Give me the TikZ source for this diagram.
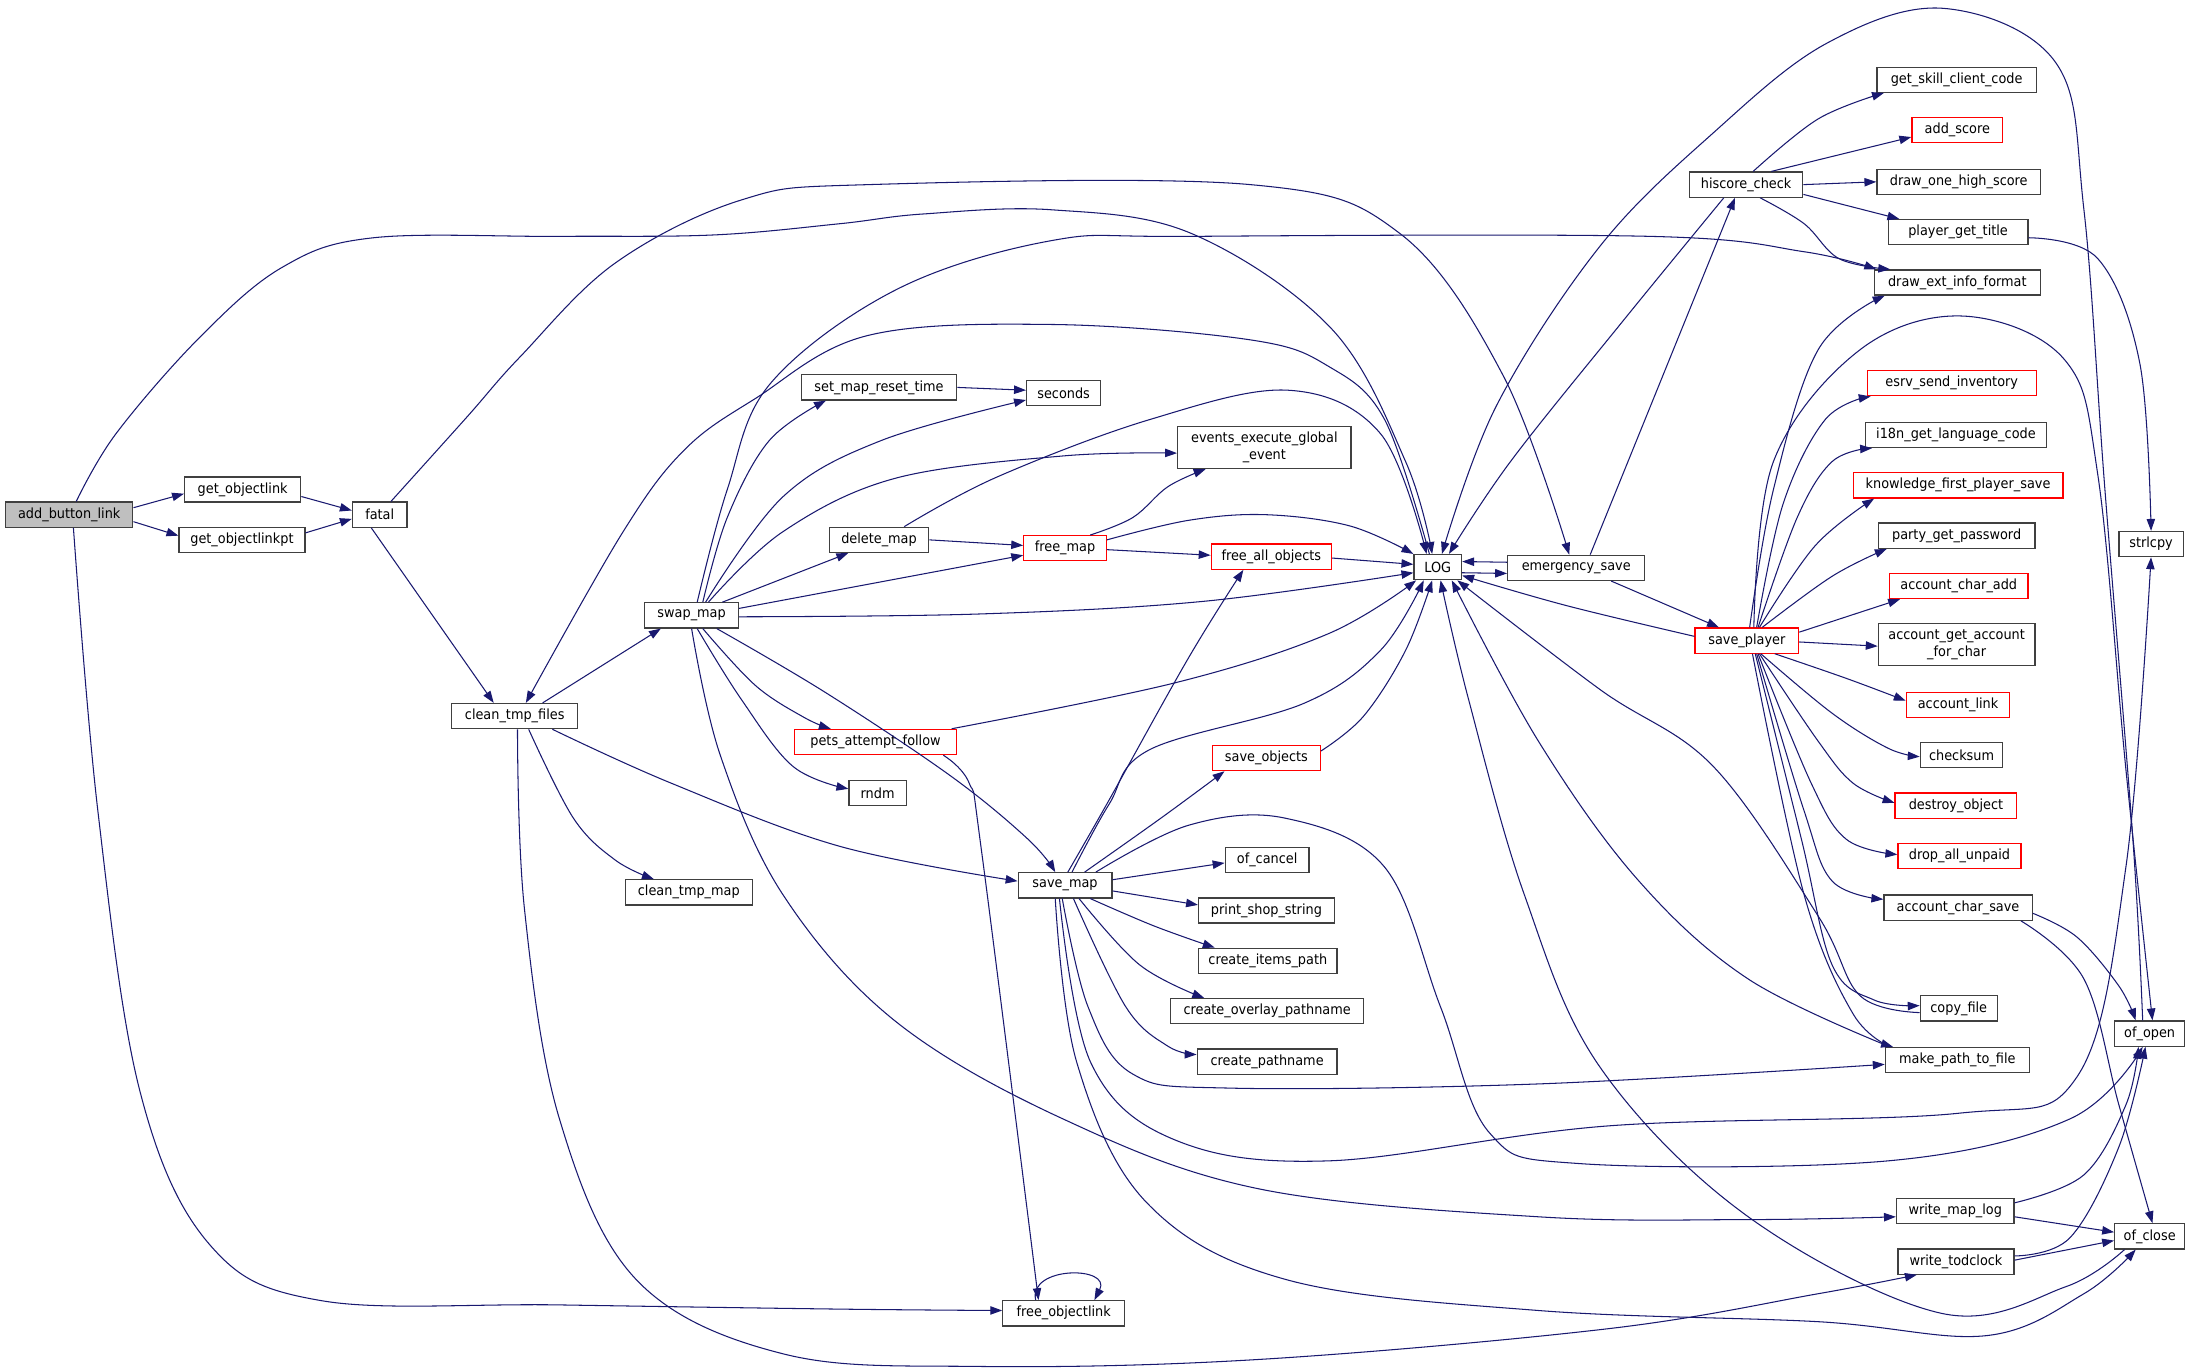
\documentclass[tikz,border=0pt]{standalone}
\usepackage{fontspec}
\newfontfamily\gfont{DejaVu Sans}[FakeStretch=0.92]
\usetikzlibrary{arrows.meta}
\definecolor{edgec}{HTML}{191970}
\definecolor{boxc}{HTML}{404040}
\definecolor{redc}{HTML}{FF0000}
\definecolor{grayfill}{HTML}{BFBFBF}
\begin{document}
\begin{tikzpicture}[x=1pt,y=-1pt,
  fn/.style={draw=boxc, line width=0.9pt, fill=white, minimum height=18pt, inner sep=0pt, font=\gfont\fontsize{10}{12}\selectfont, text=black, align=center},
  rn/.style={fn, draw=redc},
  tn/.style={fn, minimum height=30pt},
  e/.style={draw=edgec, line width=0.75pt, -{Triangle[length=8.5pt,width=6pt]}},
  sm/.style={smooth, tension=0.6}]
\fill[white] (0,0) rectangle (1568,980);
\useasboundingbox (0,0) rectangle (1568,980);

% nodes
\node[fn, fill=grayfill, minimum width=91pt] (abl) at (49.5,368) {add\_button\_link};
\node[fn, minimum width=83pt] (gol) at (173.5,350) {get\_objectlink};
\node[fn, minimum width=90pt] (golp) at (173,386) {get\_objectlinkpt};
\node[fn, minimum width=39pt] (fatal) at (271.5,368) {fatal};
\node[fn, minimum width=90pt] (ctf) at (368,512) {clean\_tmp\_files};
\node[fn, minimum width=67pt] (swap) at (494.5,440) {swap\_map};
\node[fn, minimum width=91pt] (ctm) at (492.5,638) {clean\_tmp\_map};
\node[fn, minimum width=111pt] (smrt) at (628.5,277) {set\_map\_reset\_time};
\node[fn, minimum width=53pt] (sec) at (760.5,281) {seconds};
\node[tn, minimum width=124pt] (eeg) at (904,320) {events\_execute\_global\\\_event};
\node[fn, minimum width=71pt] (dm) at (628.5,386) {delete\_map};
\node[rn, minimum width=59pt] (fm) at (761.5,392) {free\_map};
\node[rn, minimum width=86pt] (fao) at (909,398) {free\_all\_objects};
\node[fn, minimum width=34pt] (log) at (1028,405.5) {LOG};
\node[fn, minimum width=98pt] (es) at (1127,406) {emergency\_save};
\node[rn, minimum width=116pt] (paf) at (626,530.5) {pets\_attempt\_follow};
\node[fn, minimum width=41pt] (rndm) at (627.5,567) {rndm};
\node[rn, minimum width=77pt] (so) at (905.5,542) {save\_objects};
\node[fn, minimum width=67pt] (sm) at (761.5,633) {save\_map};
\node[fn, minimum width=60pt] (oc) at (906,615) {of\_cancel};
\node[fn, minimum width=97pt] (pss) at (905.5,651) {print\_shop\_string};
\node[fn, minimum width=99pt] (cip) at (906.5,687) {create\_items\_path};
\node[fn, minimum width=138pt] (cop) at (906,723) {create\_overlay\_pathname};
\node[fn, minimum width=100pt] (cp) at (906,759) {create\_pathname};
\node[fn, minimum width=87pt] (fol) at (760.5,939) {free\_objectlink};
\node[fn, minimum width=81pt] (hc) at (1248.5,132) {hiscore\_check};
\node[fn, minimum width=114pt] (gscc) at (1399,57) {get\_skill\_client\_code};
\node[rn, minimum width=65pt] (as) at (1399.5,93) {add\_score};
\node[fn, minimum width=117pt] (dohs) at (1400.5,130) {draw\_one\_high\_score};
\node[fn, minimum width=100pt] (pgt) at (1400,166) {player\_get\_title};
\node[fn, minimum width=119pt] (deif) at (1399.5,202) {draw\_ext\_info\_format};
\node[rn, minimum width=121pt] (esi) at (1395.5,274) {esrv\_send\_inventory};
\node[fn, minimum width=129pt] (i18n) at (1398.5,311) {i18n\_get\_language\_code};
\node[rn, minimum width=150pt] (kfps) at (1400,347) {knowledge\_first\_player\_save};
\node[fn, minimum width=112pt] (pgp) at (1399,383) {party\_get\_password};
\node[fn, minimum width=46pt] (strl) at (1538,389) {strlcpy};
\node[rn, minimum width=99pt] (aca) at (1400.5,419) {account\_char\_add};
\node[rn, minimum width=74pt] (sp) at (1249,458) {save\_player};
\node[tn, minimum width=112pt] (agafc) at (1399,461) {account\_get\_account\\\_for\_char};
\node[rn, minimum width=74pt] (al) at (1400,504) {account\_link};
\node[fn, minimum width=59pt] (cs) at (1402.5,540) {checksum};
\node[rn, minimum width=87pt] (do) at (1398.5,576) {destroy\_object};
\node[rn, minimum width=88pt] (dau) at (1401,612) {drop\_all\_unpaid};
\node[fn, minimum width=106pt] (acs) at (1400,649) {account\_char\_save};
\node[fn, minimum width=55pt] (cf) at (1400.5,721) {copy\_file};
\node[fn, minimum width=50pt] (oo) at (1537,739) {of\_open};
\node[fn, minimum width=103pt] (mptf) at (1399.5,758) {make\_path\_to\_file};
\node[fn, minimum width=84pt] (wml) at (1398,866) {write\_map\_log};
\node[fn, minimum width=50pt] (ocl) at (1537,884) {of\_close};
\node[fn, minimum width=83pt] (wt) at (1398.5,902) {write\_todclock};

% edges
\draw[e] ([yshift=5]abl.east) -- ([yshift=-3]gol.west);
\draw[e] ([yshift=-5]abl.east) -- ([yshift=3]golp.west);
\draw[e] ([yshift=-5]gol.east) -- ([yshift=3]fatal.west);
\draw[e] ([yshift=5]golp.east) -- ([yshift=-3]fatal.west);
\draw[e] plot[sm] coordinates {([xshift=5]abl.north) (83,310) (143,241) (202,191) (267,170) (400,169) (510,168) (600,160) (660,153) (752,150) (852,167) (952,235) (1005,330) ([xshift=-4]log.north)};
\draw[e] plot[sm] coordinates {([xshift=3]abl.south) (70,580) (100,780) (150,890) (230,930) (400,933) (600,936) ([yshift=2]fol.west)};
\draw[e] ([xshift=-6]fatal.south) -- ([xshift=-15]ctf.north);
\draw[e] plot[sm] coordinates {([xshift=8]fatal.north) (334,298) (372,255) (440,188) (530,143) (621,132) (894,132) (1001,167) (1075,269) ([xshift=-5]es.north)};
\draw[e] ([xshift=20]ctf.north) -- ([xshift=-22]swap.south);
\draw[e] plot[sm] coordinates {([xshift=-6]log.north) (990,300) (950,262) (894,243) (752,232) (620,240) (540,285) (489,322) (445,381) ([xshift=8]ctf.north)};
\draw[e] plot[sm] coordinates {([xshift=27]ctf.south) (480,560) (600,605) ([yshift=3]sm.west)};
\draw[e] plot[sm] coordinates {([xshift=10]ctf.south) (410,585) (440,615) ([xshift=-25]ctm.north)};
\draw[e] plot[sm] coordinates {([xshift=2]ctf.south) (375,650) (400,800) (455,915) (560,968) (700,977) (900,972) (1150,950) (1300,925) ([xshift=-28]wt.south)};

\draw[e] plot[sm] coordinates {([xshift=8]swap.north) (520,370) (550,315) ([xshift=-38]smrt.south)};
\draw[e] plot[sm] coordinates {([xshift=10]swap.north) (560,355) (630,315) ([yshift=-5]sec.west)};
\draw[e] plot[sm] coordinates {([xshift=12]swap.north) (560,380) (640,342) (760,326) ([yshift=-4]eeg.west)};
\draw[e] ([xshift=22]swap.north) -- ([xshift=-22]dm.south);
\draw[e] ([yshift=5]swap.east) -- ([yshift=-5]fm.west);
\draw[e] plot[sm] coordinates {([yshift=-1]swap.east) (700,439) (860,430) ([yshift=-4]log.west)};
\draw[e] plot[sm] coordinates {([xshift=4]swap.north) (520,350) (551,274) (641,207) (752,172) (852,169) (1180,169) (1290,180) ([xshift=-58]deif.north)};
\draw[e] plot[sm] coordinates {([xshift=18]swap.south) (590,495) (680,555) (735,600) ([xshift=-7]sm.north)};
\draw[e] plot[sm] coordinates {([xshift=8]swap.south) (540,490) (575,513) ([xshift=-32]paf.north)};
\draw[e] plot[sm] coordinates {([xshift=4]swap.south) (530,500) (567,548) ([yshift=3]rndm.west)};
\draw[e] plot[sm] coordinates {([xshift=0]swap.south) (515,540) (560,640) (640,730) (760,800) (900,850) (1100,870) (1250,872) ([yshift=-4]wml.west)};

\draw[e] (smrt.east) -- ([yshift=2]sec.west);
\draw[e] (dm.east) -- ([yshift=2]fm.west);
\draw[e] plot[sm] coordinates {([xshift=18]dm.north) (713,341) (822,300) (921,279) (987,310) ([xshift=-8]log.north)};
\draw[e] plot[sm] coordinates {([xshift=18]fm.north) (810,370) (835,348) ([xshift=-42]eeg.south)};
\draw[e] ([yshift=-1]fm.east) -- ([yshift=1]fao.west);
\draw[e] plot[sm] coordinates {([yshift=6]fm.east) (850,372) (905,368) (965,376) (log.north west)};
\draw[e] ([yshift=-1]fao.east) -- ([yshift=2]log.west);

\draw[e] plot[sm] coordinates {([xshift=-4]paf.north east) (841,488) (950,453) ([xshift=2]log.south west)};
\draw[e] plot[sm] coordinates {([xshift=-10]paf.south east) (693,560) (702,610) ([xshift=-18]fol.north)};
\draw[e] ([xshift=-20]fol.north) .. controls (735,905) and (795,905) .. ([xshift=22]fol.north);
\draw[e] plot[sm] coordinates {([yshift=5]so.east) (975,512) (1005,465) ([xshift=-4]log.south)};

\draw[e] ([yshift=4]sm.east) -- ([yshift=-2]oc.west);
\draw[e] ([yshift=-4]sm.east) -- ([yshift=4]pss.west);
\draw[e] plot[sm] coordinates {([xshift=18]sm.south) (825,662) ([xshift=-38]cip.north)};
\draw[e] plot[sm] coordinates {([xshift=10]sm.south) (815,690) ([xshift=-45]cop.north)};
\draw[e] plot[sm] coordinates {([xshift=6]sm.south) (805,720) (835,748) ([yshift=5]cp.west)};
\draw[e] plot[sm] coordinates {([xshift=2]sm.north) (793,572) (850,470) ([xshift=-20]fao.south)};
\draw[e] plot[sm] coordinates {([xshift=14]sm.north) (830,585) ([xshift=-30]so.south)};
\draw[e] plot[sm] coordinates {([xshift=5]sm.north) (793,575) (822,536) (932,503) (987,465) ([xshift=-10]log.south)};
\draw[e] plot[sm] coordinates {([xshift=22]sm.north) (850,590) (919,585) (990,620) (1030,720) (1065,810) (1130,832) (1350,830) (1480,800) ([xshift=-5]oo.south)};
\draw[e] plot[sm] coordinates {([xshift=-2]sm.south) (778,720) (810,768) (880,778) (1100,775) ([yshift=-3]mptf.west)};
\draw[e] plot[sm] coordinates {([xshift=-4]sm.south) (780,760) (840,815) (950,830) (1150,805) (1400,796) (1485,770) (1520,620) (strl.south)};
\draw[e] plot[sm] coordinates {([xshift=-7]sm.south) (770,760) (820,860) (920,915) (1100,937) (1300,945) (1420,955) (1490,925) ([xshift=-10]ocl.south)};

\draw[e] ([yshift=-4]log.east) -- ([yshift=-4]es.west);
\draw[e] ([yshift=4]es.west) -- ([yshift=4]log.east);
\draw[e] ([xshift=10]es.north) -- ([xshift=-8]hc.south);
\draw[e] ([xshift=25]es.south) -- ([xshift=-20]sp.north);
\draw[e] plot[sm] coordinates {([xshift=-16]hc.south) (1160,230) (1080,330) ([xshift=8]log.north)};
\draw[e] plot[sm] coordinates {([xshift=-5]oo.north) (1525,600) (1505,350) (1490,150) (1470,45) (1390,6) (1306,31) (1225,95) (1144,176) (1070,290) ([xshift=3]log.north)};
\draw[e] plot[sm] coordinates {([yshift=3]sp.west) (1120,433) ([yshift=-6]log.east)};
\draw[e] plot[sm] coordinates {([xshift=2]sp.north) (1268,350) (1300,250) ([xshift=-52]deif.south)};
\draw[e] plot[sm] coordinates {([xshift=5]sp.north) (1268,330) (1330,250) (1404,226) (1476,257) (1500,340) (1520,550) ([xshift=2]oo.north)};
\draw[e] plot[sm] coordinates {([xshift=7]sp.north) (1275,360) (1305,300) ([xshift=-58]esi.south)};
\draw[e] plot[sm] coordinates {([xshift=8]sp.north) (1285,370) (1310,330) ([xshift=-60]i18n.south)};
\draw[e] plot[sm] coordinates {([xshift=9]sp.north) (1298,390) ([xshift=-60]kfps.south)};
\draw[e] plot[sm] coordinates {([xshift=11]sp.north) (1310,412) ([xshift=-50]pgp.south)};
\draw[e] ([yshift=6]sp.east) -- ([xshift=-42]aca.south);
\draw[e] ([yshift=-1]sp.east) -- ([yshift=-1]agafc.west);
\draw[e] plot[sm] coordinates {([xshift=20]sp.south) (1320,485) ([yshift=3]al.west)};
\draw[e] plot[sm] coordinates {([xshift=10]sp.south) (1310,510) (1350,535) ([yshift=-1]cs.west)};
\draw[e] plot[sm] coordinates {([xshift=9]sp.south) (1300,530) (1325,560) ([yshift=2]do.west)};
\draw[e] plot[sm] coordinates {([xshift=8]sp.south) (1295,560) (1320,600) ([yshift=1]dau.west)};
\draw[e] plot[sm] coordinates {([xshift=7]sp.south) (1290,580) (1310,630) ([yshift=6]acs.west)};
\draw[e] plot[sm] coordinates {([xshift=6]sp.south) (1288,600) (1310,690) (1340,715) ([yshift=2]cf.west)};
\draw[e] plot[sm] coordinates {([yshift=-3]cf.west) (1330,712) (1300,655) (1225,548) (1144,493) ([xshift=14]log.south)};
\draw[e] plot[sm] coordinates {([xshift=4]sp.south) (1290,640) (1325,725) ([xshift=-46]mptf.north)};
\draw[e] plot[sm] coordinates {([xshift=-48]mptf.north) (1250,700) (1171,629) (1100,530) ([xshift=10]log.south)};
\draw[e] plot[sm] coordinates {([yshift=-4]acs.east) (1485,670) (1515,705) ([xshift=-10]oo.north)};
\draw[e] plot[sm] coordinates {([xshift=45]acs.south) (1490,700) (1515,790) ([xshift=2]ocl.north)};
\draw[e] plot[sm] coordinates {([yshift=-4]pgt.east) (1500,185) (1530,260) (strl.north)};
\draw[e] plot[sm] coordinates {([xshift=5]hc.north) (1300,85) ([xshift=-52]gscc.south)};
\draw[e] ([xshift=18]hc.north) -- ([yshift=-5]as.west);
\draw[e] (hc.east) -- (dohs.west);
\draw[e] ([yshift=-7]hc.east) -- ([xshift=-42]pgt.north);
\draw[e] plot[sm] coordinates {([xshift=10]hc.south) (1290,160) (1315,185) ([xshift=-48]deif.north)};
\draw[e] plot[sm] coordinates {([yshift=6]wml.east) (1490,840) (1520,790) ([xshift=-8]oo.south)};
\draw[e] ([yshift=-4]wml.east) -- ([yshift=3]ocl.west);
\draw[e] plot[sm] coordinates {([yshift=4]wt.east) (1480,885) (1515,820) ([xshift=-3]oo.south)};
\draw[e] ([yshift=1]wt.east) -- ([yshift=-3]ocl.west);
\draw[e] plot[sm] coordinates {([xshift=-18]ocl.south) (1477,920) (1388,939) (1250,870) (1144,763) (1090,640) (1050,500) ([xshift=2]log.south)};
\end{tikzpicture}
\end{document}
